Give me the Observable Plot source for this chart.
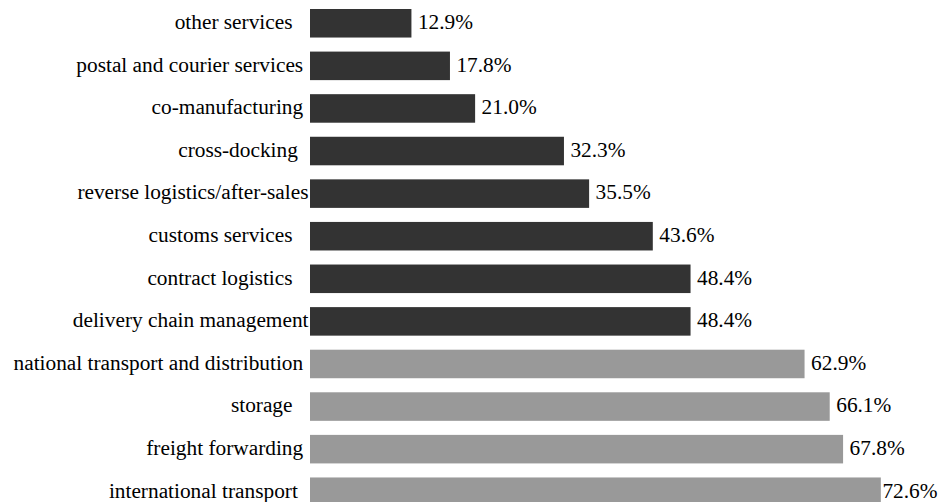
<!DOCTYPE html>
<html><head><meta charset="utf-8">
<script src="https://cdn.jsdelivr.net/npm/d3@7"></script>
<script src="https://cdn.jsdelivr.net/npm/@observablehq/plot@0.6"></script>
<style>
html,body{margin:0;padding:0;overflow:hidden;background:#fff}
#chart svg, #chart svg text { font-family: "Liberation Serif", Tinos, "Times New Roman", serif !important; font-size: 21.33px !important; }
</style>
</head><body><div id="chart"></div><script>
// Categories in display order (top to bottom); trailing spaces are part of the original labels
const categories = [
  "other services   ",
  "postal and courier services ",
  "co-manufacturing ",
  "cross-docking  ",
  "reverse logistics/after-sales",
  "customs services   ",
  "contract logistics   ",
  "delivery chain management",
  "national transport and distribution ",
  "storage   ",
  "freight forwarding ",
  "international transport  "
];
const values = [12.9, 17.8, 21.0, 32.3, 35.5, 43.6, 48.4, 48.4, 62.9, 66.1, 67.8, 72.6];
const groups = ["other","other","other","other","other","other","other","other","main","main","main","main"];

const data = categories.map((c, i) => ({category: c, value: values[i], group: groups[i]}));
const fmt = v => v.toFixed(1) + "%";
const maxValue = d3.max(values);
const nbsp = s => s.replace(/ +$/, m => "\u00a0".repeat(m.length));

const plot = Plot.plot({
  width: 939,
  height: 510,
  marginLeft: 310,
  marginRight: 0,
  marginTop: 9,
  marginBottom: 4,
  style: {background: "#fff", color: "#000"},
  x: {domain: [0, 80], axis: null},
  y: {domain: categories, paddingInner: 0.33, paddingOuter: 0, round: false, axis: null},
  color: {domain: ["other", "main"], range: ["#333333", "#999999"]},
  marks: [
    Plot.axisY({tickSize: 0, tickPadding: 2, tickFormat: nbsp, label: null, dy: -1.5, fill: "#000"}),
    Plot.barX(data, {x: "value", y: "category", fill: "group"}),
    Plot.text(data.filter(d => d.value < maxValue), {x: "value", y: "category", text: d => fmt(d.value), textAnchor: "start", dx: 6, dy: -1.5, fill: "#000"}),
    Plot.text(data.filter(d => d.value === maxValue), {frameAnchor: "right", y: "category", text: d => fmt(d.value), textAnchor: "end", dx: -2, dy: -1.5, fill: "#000"})
  ]
});
document.getElementById("chart").appendChild(plot);
</script></body></html>
